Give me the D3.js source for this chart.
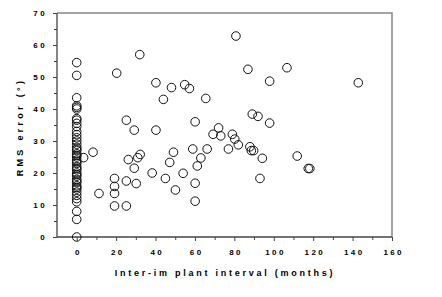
<!DOCTYPE html>
<html><head><meta charset="utf-8">
<script src="https://cdn.jsdelivr.net/npm/d3@7"></script>
<style>
body{margin:0;background:#fff;}
svg text{font-family:"Liberation Sans",Arial,sans-serif;font-weight:bold;fill:#000;}
</style></head>
<body>
<script>
// Data: inter-implant interval (months) vs RMS error (deg)
const zeroIntervalErrors = [54.5, 50.5, 43.5, 41, 40.5, 40, 37, 36.5, 35.5, 34.5, 33, 32, 31, 30, 29, 28, 27.5, 27, 26, 25.5, 25, 24, 23.5, 23, 22, 21.5, 21, 20, 19.5, 19, 18, 17.5, 17, 16, 15.5, 15, 14, 13, 12, 11, 8, 5.5, 0];
const intervals = [3.5, 8.3, 11.3, 19.2, 19.2, 19.2, 19.2, 20.3, 25.2, 25.2, 25.2, 26.2, 29.2, 29.2, 30.2, 31.0, 32.2, 32.0, 38.3, 40.2, 40.2, 44.0, 45.0, 47.2, 48.1, 49.1, 50.1, 54.0, 54.8, 57.2, 58.9, 60.1, 60.1, 60.1, 61.2, 63.0, 65.5, 66.2, 69.2, 72.0, 73.1, 77.0, 79.0, 80.2, 80.8, 82.0, 86.9, 87.9, 88.6, 89.8, 89.1, 92.0, 93.0, 94.2, 97.9, 97.9, 106.7, 111.9, 117.5, 118.3, 142.9];
const rmsErrors = [24.8, 26.5, 13.6, 18.3, 15.8, 13.6, 9.7, 51.2, 9.7, 17.5, 36.5, 24.2, 33.4, 21.5, 16.7, 24.8, 25.8, 57.0, 20.0, 48.2, 33.4, 43.0, 18.3, 23.3, 46.7, 26.5, 14.7, 19.9, 47.6, 46.4, 27.5, 36.0, 16.8, 11.2, 22.2, 24.7, 43.3, 27.5, 32.1, 34.1, 31.6, 27.5, 32.1, 30.6, 62.8, 28.8, 52.4, 28.2, 27.0, 27.0, 38.4, 37.7, 18.3, 24.6, 35.6, 48.7, 52.9, 25.3, 21.4, 21.4, 48.2];
const xTickValues = [0, 20, 40, 60, 80, 100, 120, 140, 160];
const yTickValues = [0, 10, 20, 30, 40, 50, 60, 70];
const xLabel = "Inter-im plant interval (months)";
const yLabel = "RMS error (°)";

const points = zeroIntervalErrors.map(v => ({x: 0, y: v}))
  .concat(intervals.map((x, i) => ({x, y: rmsErrors[i]})));

const W = 442, H = 297;
const L = 57, R = 392, T = 13, B = 237;
const svg = d3.select("body").append("svg").attr("width", W).attr("height", H);
const x = d3.scaleLinear().domain([-10, 160]).range([L, R]);
const y = d3.scaleLinear().domain([0, 70]).range([B, T]);

// frame (top/right)
svg.append("path").attr("d", `M${L},${T}H${R}V${B}`).attr("fill", "none")
  .attr("stroke", "#888").attr("stroke-width", 1.5);

// minor ticks
const xMinor = d3.range(10, 160, 20);
const yMinor = d3.range(5, 70, 10);
const gx = svg.append("g").attr("transform", `translate(0,${B})`);
gx.call(d3.axisBottom(x).tickValues(xMinor).tickSize(3).tickFormat(""));
gx.call(g => g.select(".domain").remove());
const gx2 = svg.append("g").attr("transform", `translate(0,${B})`)
  .call(d3.axisBottom(x).tickValues(xTickValues).tickSize(4).tickPadding(8).tickFormat(d3.format("d")));
gx2.select(".domain").attr("d", `M${L},0H${R}`);
const gy = svg.append("g").attr("transform", `translate(${L},0)`);
gy.call(d3.axisLeft(y).tickValues(yMinor).tickSize(3).tickFormat(""));
gy.call(g => g.select(".domain").remove());
const gy2 = svg.append("g").attr("transform", `translate(${L},0)`)
  .call(d3.axisLeft(y).tickValues(yTickValues).tickSize(4).tickPadding(6).tickFormat(d3.format("d")));
gy2.select(".domain").attr("d", `M0,${T}V${B}`);

svg.selectAll(".tick line").attr("stroke", "#444");
svg.selectAll(".domain").attr("stroke", "#444").attr("stroke-width", 1.3);
svg.selectAll(".tick text").attr("font-size", 8).attr("letter-spacing", "2.4px")
  .attr("font-family", "'Liberation Sans',Arial,sans-serif").attr("font-weight", "bold");
gx2.selectAll(".tick text").attr("dx", "1.2px");

// points
svg.append("g").selectAll("circle").data(points).join("circle")
  .attr("cx", d => x(d.x)).attr("cy", d => y(d.y)).attr("r", 4.3)
  .attr("fill", "none").attr("stroke", "#111").attr("stroke-width", 1);

// titles
svg.append("text").attr("x", 225).attr("y", 276).attr("text-anchor", "middle")
  .attr("font-size", 9).attr("letter-spacing", "2.75px").text(xLabel);
svg.append("text").attr("transform", "translate(23,127) rotate(-90)").attr("text-anchor", "middle")
  .attr("font-size", 9).attr("letter-spacing", "3.3px").text(yLabel);
</script>
</body></html>
